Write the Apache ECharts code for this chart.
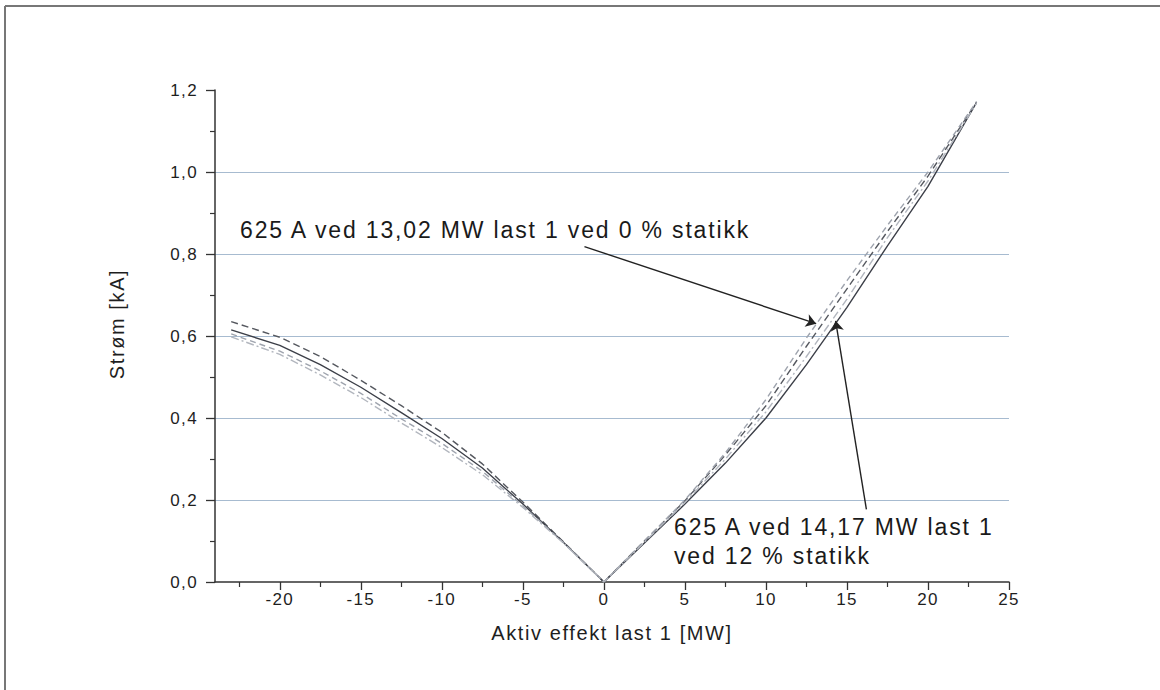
<!DOCTYPE html>
<html>
<head>
<meta charset="utf-8">
<script src="https://cdn.jsdelivr.net/npm/echarts@6/dist/echarts.min.js"></script>
<style>
  html, body { margin: 0; padding: 0; background: #fff; }
  #chart { width: 1160px; height: 690px; }
  /* Origin-eksporten har litt vid sperring */
  #chart text { letter-spacing: 0.08em; }
</style>
</head>
<body>
<div id="chart"></div>
<script>
// aktiv effekt last 1 [MW]
const powerMW = [-23, -20, -17.5, -15, -12.5, -10, -7.5, -5, -2.5, 0, 2.5, 5, 7.5, 10, 12.5, 15, 17.5, 20, 23];

// strøm [kA], fire kurver
const currentA = [0.635, 0.597, 0.550, 0.492, 0.430, 0.365, 0.288, 0.195, 0.098, 0, 0.100, 0.198, 0.310, 0.430, 0.575, 0.715, 0.855, 0.990, 1.170];
const currentB = [0.615, 0.577, 0.530, 0.475, 0.413, 0.350, 0.278, 0.190, 0.097, 0, 0.095, 0.190, 0.290, 0.400, 0.530, 0.670, 0.820, 0.965, 1.170];
const currentC = [0.605, 0.563, 0.515, 0.460, 0.398, 0.338, 0.270, 0.186, 0.096, 0, 0.100, 0.200, 0.315, 0.445, 0.595, 0.735, 0.870, 1.000, 1.172];
const currentD = [0.598, 0.555, 0.505, 0.450, 0.388, 0.328, 0.262, 0.182, 0.095, 0, 0.097, 0.194, 0.300, 0.415, 0.550, 0.690, 0.840, 0.978, 1.168];

const xMajorTicks = [-20, -15, -10, -5, 0, 5, 10, 15, 20, 25];
const xMinorTicks = [-22.5, -17.5, -12.5, -7.5, -2.5, 2.5, 7.5, 12.5, 17.5, 22.5];

// pilene: [fra, til] i dataverdier
const arrow1 = [[-1.2, 0.818], [13.1, 0.63]];
const arrow2 = [[16.2, 0.177], [14.3, 0.637]];

const font = '"Liberation Sans", Arial, sans-serif';

function pairs(ys) {
  return powerMW.map((x, i) => [x, ys[i]]);
}

function curve(ys, color, type, extra) {
  let s = {
    type: 'line',
    data: pairs(ys),
    showSymbol: false,
    silent: true,
    lineStyle: { color: color, width: 1.4, type: type },
    z: 3
  };
  return Object.assign(s, extra || {});
}

let myChart = echarts.init(document.getElementById('chart'), null, { renderer: 'svg' });

let option = {
  backgroundColor: '#fff',
  animation: false,
  grid: { left: 215, right: 151, top: 90, bottom: 108 },
  xAxis: [{
    type: 'value',
    min: -24,
    max: 25,
    name: 'Aktiv effekt last 1 [MW]',
    nameLocation: 'middle',
    nameGap: 41,
    nameTextStyle: { fontFamily: font, fontSize: 20, color: '#1e1e1e' },
    axisLine: { onZero: false, lineStyle: { color: '#333', width: 1.5 } },
    axisTick: { customValues: xMajorTicks, length: 8, lineStyle: { color: '#333', width: 1.3 } },
    axisLabel: { customValues: xMajorTicks, fontFamily: font, fontSize: 17, color: '#1e1e1e', margin: 9 },
    splitLine: { show: false }
  }, {
    type: 'value',
    min: -24,
    max: 25,
    position: 'bottom',
    axisLine: { show: false, onZero: false },
    axisTick: { customValues: xMinorTicks, length: 5, lineStyle: { color: '#333', width: 1.2 } },
    axisLabel: { show: false },
    splitLine: { show: false }
  }],
  yAxis: {
    type: 'value',
    min: 0,
    max: 1.2,
    interval: 0.2,
    name: 'Strøm [kA]',
    nameLocation: 'middle',
    nameGap: 88,
    nameTextStyle: { fontFamily: font, fontSize: 20, color: '#1e1e1e', padding: [0, 0, 0, 24] },
    axisLine: { show: true, onZero: false, lineStyle: { color: '#333', width: 1.5 } },
    axisTick: { show: true, length: 9, lineStyle: { color: '#333', width: 1.3 } },
    minorTick: { show: true, splitNumber: 2, length: 5, lineStyle: { color: '#333', width: 1.2 } },
    axisLabel: {
      fontFamily: font, fontSize: 17, color: '#1e1e1e', margin: 17,
      formatter: v => v.toFixed(1).replace('.', ',')
    },
    splitLine: { show: true, showMinLine: false, showMaxLine: false, lineStyle: { color: '#a7bbd0', width: 1 } }
  },
  series: [
    curve(currentA, '#55585f', [7, 4]),
    curve(currentB, '#3c3f48', 'solid', {
      markLine: {
        silent: true,
        symbol: ['none', 'arrow'],
        symbolSize: 10,
        label: { show: false },
        lineStyle: { color: '#222', width: 1.4, type: 'solid' },
        data: [
          [{ coord: arrow1[0] }, { coord: arrow1[1] }],
          [{ coord: arrow2[0] }, { coord: arrow2[1] }]
        ]
      }
    }),
    curve(currentC, '#9ea3ad', [6, 4]),
    curve(currentD, '#b2b6be', [8, 3, 2, 3])
  ],
  graphic: [
    { type: 'line', shape: { x1: 5, y1: 6, x2: 1160, y2: 6 }, style: { stroke: '#777', lineWidth: 2 } },
    { type: 'line', shape: { x1: 5, y1: 6, x2: 5, y2: 690 }, style: { stroke: '#777', lineWidth: 2 } },
    {
      type: 'text', left: 240, top: 218,
      style: { text: '625 A ved 13,02 MW last 1 ved 0 % statikk', font: '23px ' + font, fill: '#1a1a1a' }
    },
    {
      type: 'text', left: 674, top: 512,
      style: { text: '625 A ved 14,17 MW last 1\nved 12 % statikk', font: '23px ' + font, fill: '#1a1a1a', lineHeight: 29 }
    }
  ]
};

myChart.setOption(option);
</script>
</body>
</html>
